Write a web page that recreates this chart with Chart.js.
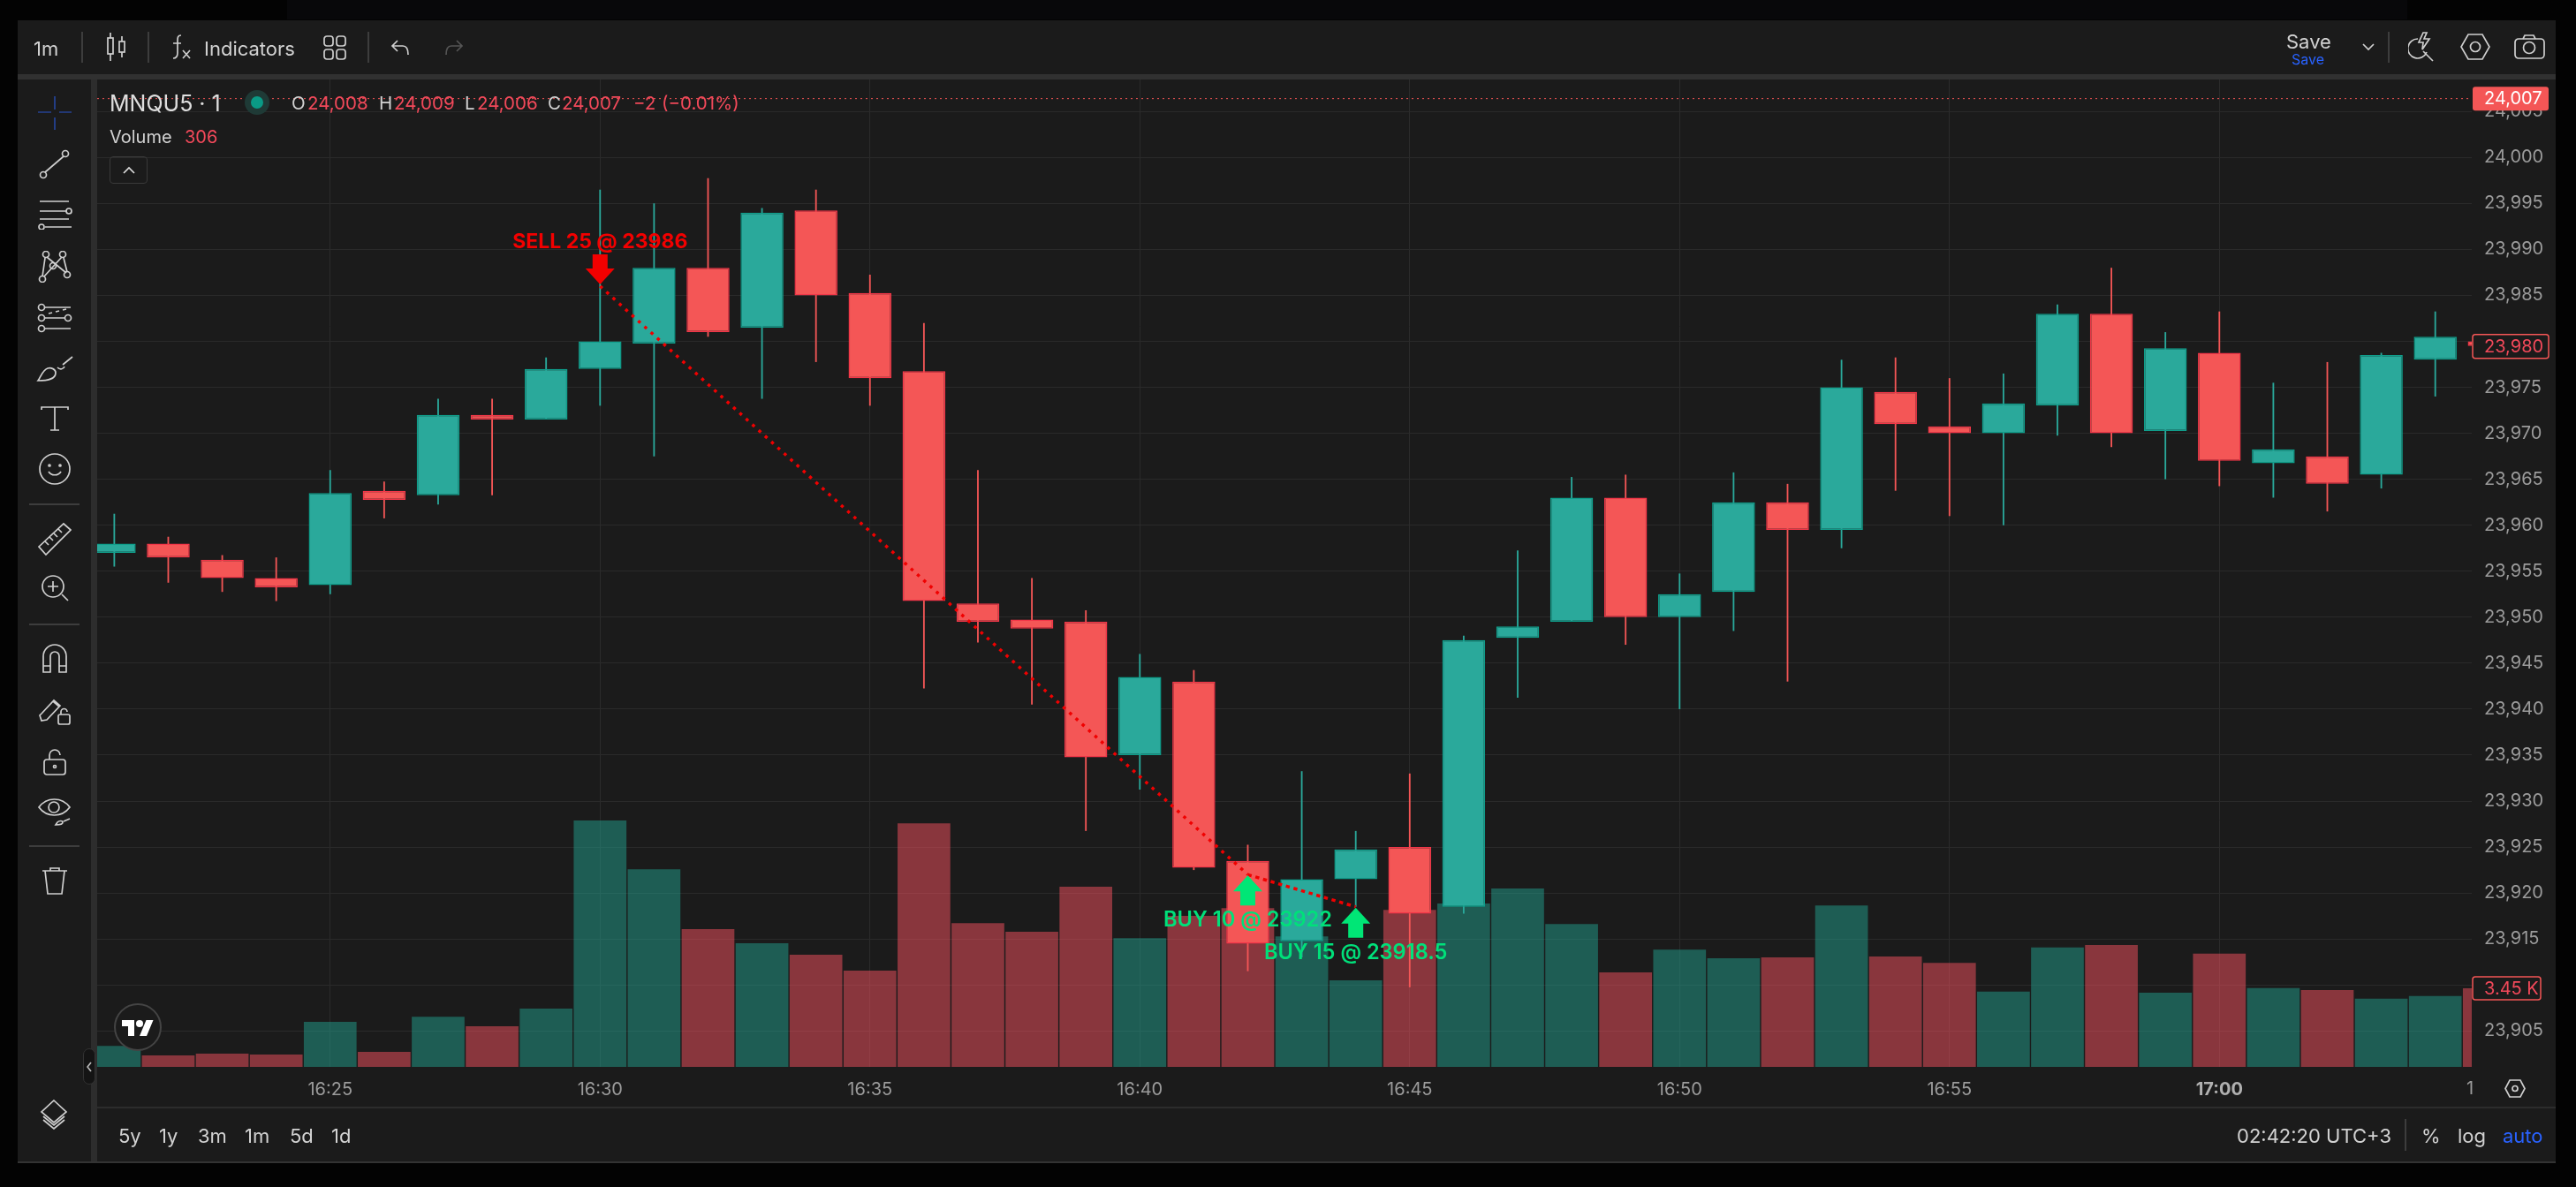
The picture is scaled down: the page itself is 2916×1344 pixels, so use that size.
<!DOCTYPE html>
<html>
<head>
<meta charset="utf-8">
<title>MNQU5</title>
<script src="https://cdn.jsdelivr.net/npm/chart.js@4/dist/chart.umd.min.js"></script>
<style>
html, body { margin: 0; padding: 0; background: #030303; overflow: hidden; }
body { width: 2916px; height: 1344px; position: relative; font-family: Inter, "Noto Sans", sans-serif; }
.box { position: absolute; }
.txt { position: absolute; white-space: nowrap; line-height: 1; transform: translateY(-50%); }
svg { position: absolute; fill: none; stroke: #cfcfcf; stroke-width: 1.7; }
canvas { position: absolute; left: 0; top: 0; }
</style>
</head>
<body>
<div class="box" style="left:325px;top:0;width:2400px;height:22px;background:#08080a"></div>
<div class="box" style="left:20px;top:23px;width:2873px;height:1293px;background:#1b1b1b"></div>
<div class="box" style="left:20px;top:84px;width:2873px;height:6px;background:#313131"></div>
<div class="box" style="left:103px;top:90px;width:7px;height:1226px;background:#2d2d2d"></div>
<div class="box" style="left:110px;top:1253px;width:2783px;height:2px;background:#2c2c2c"></div>
<div class="box" style="left:20px;top:1315px;width:2873px;height:2px;background:#333"></div>
<canvas id="chart" width="2916" height="1344"></canvas>
<div id="chrome"></div>

<script>
var times = ['16:21','16:22','16:23','16:24','16:25','16:26','16:27','16:28','16:29','16:30','16:31','16:32','16:33','16:34','16:35',
    '16:36','16:37','16:38','16:39','16:40','16:41','16:42','16:43','16:44','16:45','16:46','16:47','16:48','16:49','16:50',
    '16:51','16:52','16:53','16:54','16:55','16:56','16:57','16:58','16:59','17:00','17:01','17:02','17:03','17:04','17:05'];
var opens = [23957,23958,23956.25,23954.25,23953.5,23963.75,23963.25,23972,23971.5,23977,23979.75,23988,23981.5,23994.25,23985.25,
    23976.75,23951.5,23949.75,23949.5,23935,23943,23923.5,23914.75,23921.5,23925,23918.5,23947.75,23949.5,23963,23950,
    23952.75,23962.5,23959.5,23974.5,23970.75,23970,23973,23983,23970.25,23978.75,23966.75,23967.5,23965.5,23978,23980];
var closes = [23958,23956.5,23954.25,23953.25,23963.5,23962.75,23972,23971.5,23977,23980,23988,23981,23994,23985,23976,
    23951.75,23949.5,23948.75,23934.75,23943.5,23922.75,23914.5,23921.5,23924.75,23917.75,23947.5,23949,23963,23950,23952.5,
    23962.5,23959.5,23975,23971,23970,23973.25,23983,23970,23979.25,23967,23968.25,23964.5,23978.5,23980.5,23979.5];
var highs = [23961.25,23958.75,23956.75,23956.5,23966,23964.75,23973.75,23973.75,23978.25,23996.5,23995,23997.75,23994.5,23996.5,23987.25,
    23982,23966,23954.25,23950.75,23946,23944.25,23925.25,23933.25,23926.75,23933,23948,23957.25,23965.25,23965.5,23954.75,
    23965.75,23964.5,23978,23978.25,23976,23976.5,23984,23988,23981,23983.25,23975.5,23977.75,23978.75,23983.25,23981];
var lows = [23955.5,23953.75,23952.75,23951.75,23952.5,23960.75,23962.25,23963.25,23971.5,23973,23967.5,23980.5,23973.75,23977.75,23973,
    23942.25,23947.25,23940.5,23926.75,23931.25,23922.5,23911.5,23913,23918.5,23909.75,23917.75,23941.25,23949.5,23947,23940,
    23948.5,23943,23957.5,23963.75,23961,23960,23969.75,23968.5,23965,23964.25,23963,23961.5,23964,23974,23979];
var volumes = [920,500,580,540,1980,660,2200,1780,2560,10810,8670,6050,5425,4925,4225,
    10690,6306,5926,7907,5646,6627,6968,5726,3800,6887,7170,7829,6266,4147,5145,
    4765,4805,7087,4845,4565,3306,5240,5353,3260,4970,3464,3375,2990,3110,3450];

var tradeTimes = ['16:30','16:42','16:44'];
var tradePrices = [23986,23922,23918.5];
var tradeLabels = ['SELL 25 @ 23986','BUY 10 @ 23922','BUY 15 @ 23918.5'];

var lastPriceLevel = 24006.4;
var lastPriceLabel = '24,007';
var lastBarLevel = 23979.5;
var lastBarLabel = '23,980';
var lastVolumeLabel = '3.45 K';

var UP = '#2aa99b', UP_EDGE = '#0f9e8b', DOWN = '#f45656', DOWN_EDGE = '#f23648';
var TEXT = '#d2d2d2', AXIS = '#9b9b9b', RED = '#f2495a', BLUE = '#2962ff';
var FONT = 'Inter, "Noto Sans", sans-serif';

function toMinute(t) {
    var p = t.split(':');
    return Number(p[0]) * 60 + Number(p[1]);
}
function fromMinute(m) {
    return Math.floor(m / 60) + ':' + String(m % 60).padStart(2, '0');
}
var minutes = times.map(toMinute);
var xMin = 980.683, xMax = 1024.676;
var isUp = closes.map(function (c, i) { return c >= opens[i]; });

var tradeOverlay = {
    id: 'tradeOverlay',
    afterDraw: function (chart) {
        var ctx = chart.ctx, xs = chart.scales.x, ys = chart.scales.y;
        ctx.save();
        ctx.textAlign = 'center';
        ctx.textBaseline = 'alphabetic';
        tradeTimes.forEach(function (t, i) {
            var px = xs.getPixelForValue(toMinute(t));
            var py = ys.getPixelForValue(tradePrices[i]);
            var sell = tradeLabels[i].indexOf('SELL') === 0;
            var dir = sell ? -1 : 1;
            var tip = py + (sell ? -2 : 1);
            ctx.fillStyle = sell ? '#f20000' : '#00e676';
            ctx.beginPath();
            ctx.moveTo(px, tip);
            ctx.lineTo(px + 16.5, tip + dir * 18);
            ctx.lineTo(px + 8.5, tip + dir * 18);
            ctx.lineTo(px + 8.5, tip + dir * 34);
            ctx.lineTo(px - 8.5, tip + dir * 34);
            ctx.lineTo(px - 8.5, tip + dir * 18);
            ctx.lineTo(px - 16.5, tip + dir * 18);
            ctx.closePath();
            ctx.fill();
            ctx.font = sell ? '700 23px ' + FONT : '600 23.6px ' + FONT;
            ctx.fillStyle = sell ? '#f20000' : '#00e07a';
            ctx.fillText(tradeLabels[i], px, sell ? py - 43 : py + 59);
        });

        // price badges on the right axis
        var left = chart.chartArea.right + 1;
        ctx.font = '20px ' + FONT;
        ctx.textAlign = 'left';
        ctx.textBaseline = 'middle';

        var y1 = ys.getPixelForValue(lastPriceLevel);
        ctx.fillStyle = DOWN;
        ctx.beginPath();
        ctx.roundRect(left, y1 - 13.5, 86, 27, 3);
        ctx.fill();
        ctx.fillStyle = '#ffffff';
        ctx.fillText(lastPriceLabel, left + 13, y1 + 0.5);

        var y2 = ys.getPixelForValue(lastBarLevel);
        ctx.fillStyle = '#1b1b1b';
        ctx.strokeStyle = DOWN;
        ctx.lineWidth = 1.5;
        ctx.beginPath();
        ctx.roundRect(left, y2 - 13, 86, 27, 3);
        ctx.fill();
        ctx.stroke();
        ctx.fillStyle = RED;
        ctx.fillText(lastBarLabel, left + 13, y2 + 1);

        var y3 = chart.scales.yVol.getPixelForValue(volumes[volumes.length - 1]);
        ctx.fillStyle = '#1b1b1b';
        ctx.beginPath();
        ctx.roundRect(left, y3 - 13, 77, 26, 3);
        ctx.fill();
        ctx.stroke();
        ctx.fillStyle = RED;
        ctx.fillText(lastVolumeLabel, left + 13, y3 + 0.5);
        ctx.restore();
    }
};

new Chart(document.getElementById('chart'), {
    type: 'bar',
    data: {
        datasets: [
            {
                type: 'line', order: 0, borderColor: '#f00000', borderWidth: 3.5, borderDash: [3.5, 6.2],
                pointRadius: 0, xAxisID: 'x', yAxisID: 'y',
                data: [0, 1].map(function (i) { return { x: toMinute(tradeTimes[i]), y: tradePrices[i] }; })
            },
            {
                type: 'line', order: 0, borderColor: '#f00000', borderWidth: 3.5, borderDash: [4.5, 4.5],
                pointRadius: 0, xAxisID: 'x', yAxisID: 'y',
                data: [1, 2].map(function (i) { return { x: toMinute(tradeTimes[i]), y: tradePrices[i] }; })
            },
            {
                type: 'line', order: 4, borderColor: '#f45656', borderWidth: 1, borderDash: [2, 4],
                pointRadius: 0, xAxisID: 'x', yAxisID: 'y',
                data: [{ x: xMin, y: lastPriceLevel }, { x: xMax, y: lastPriceLevel }]
            },
            {
                order: 1, grouped: false, barPercentage: 0.794, categoryPercentage: 1,
                xAxisID: 'x', yAxisID: 'y',
                backgroundColor: isUp.map(function (u) { return u ? UP : DOWN; }),
                borderColor: isUp.map(function (u) { return u ? UP_EDGE : DOWN_EDGE; }),
                borderWidth: 1.5, borderSkipped: false,
                data: minutes.map(function (m, i) { return { x: m, y: [opens[i], closes[i]] }; })
            },
            {
                order: 2, grouped: false, barPercentage: 0.03, categoryPercentage: 1,
                xAxisID: 'x', yAxisID: 'y',
                backgroundColor: isUp.map(function (u) { return u ? UP : DOWN; }),
                data: minutes.map(function (m, i) { return { x: m, y: [lows[i], highs[i]] }; })
            },
            {
                order: 3, grouped: false, barPercentage: 0.977, categoryPercentage: 1,
                xAxisID: 'x', yAxisID: 'yVol',
                backgroundColor: isUp.map(function (u) { return u ? 'rgba(34,160,142,0.5)' : 'rgba(247,82,95,0.5)'; }),
                data: minutes.map(function (m, i) { return { x: m, y: volumes[i] }; })
            }
        ]
    },
    options: {
        responsive: false,
        animation: false,
        events: [],
        layout: { padding: { left: 110, top: 90, right: 0, bottom: 90 } },
        plugins: { legend: { display: false }, tooltip: { enabled: false } },
        scales: {
            x: {
                type: 'linear', min: xMin, max: xMax, offset: false,
                grid: { color: '#2b2b2b', offset: false, drawTicks: false },
                border: { display: false },
                afterFit: function (s) { s.height = 46; },
                ticks: {
                    stepSize: 5, includeBounds: false, autoSkip: false, maxRotation: 0, padding: 14,
                    color: function (c) { return c.tick && c.tick.value === 1020 ? '#b0b0b0' : AXIS; },
                    font: function (c) {
                        var bold = c.tick && c.tick.value === 1020;
                        return { family: FONT, size: 20, weight: bold ? '700' : '400' };
                    },
                    callback: function (v) { return fromMinute(v); }
                }
            },
            y: {
                type: 'linear', position: 'right', min: 23901.09, max: 24008.48,
                grid: { color: '#2a2a2a', drawTicks: false },
                border: { display: false },
                afterFit: function (s) { s.width = 118; },
                ticks: {
                    stepSize: 5, includeBounds: false, autoSkip: false, padding: 14,
                    color: AXIS, font: { family: FONT, size: 20 },
                    callback: function (v) { return v.toLocaleString('en-US'); }
                }
            },
            yVol: { type: 'linear', position: 'right', display: false, min: 0, max: 43334 }
        }
    },
    plugins: [tradeOverlay]
});

// ---- toolbar chrome around the chart
var chrome = document.getElementById('chrome');

function text(str, x, y, size, color, weight) {
    var d = document.createElement('div');
    d.className = 'txt';
    d.textContent = str;
    d.style.left = x + 'px';
    d.style.top = y + 'px';
    d.style.fontSize = size + 'px';
    d.style.color = color;
    if (weight) d.style.fontWeight = weight;
    chrome.appendChild(d);
}
function rule(x, y, w, h, color) {
    var d = document.createElement('div');
    d.className = 'box';
    d.style.cssText += 'left:' + x + 'px;top:' + y + 'px;width:' + w + 'px;height:' + h + 'px;background:' + color;
    chrome.appendChild(d);
}
function icon(cx, cy, w, h, inner, stroke, sw) {
    var s = document.createElementNS('http://www.w3.org/2000/svg', 'svg');
    s.setAttribute('width', w);
    s.setAttribute('height', h);
    s.setAttribute('viewBox', '0 0 ' + w + ' ' + h);
    s.style.left = (cx - w / 2) + 'px';
    s.style.top = (cy - h / 2) + 'px';
    if (stroke) s.style.stroke = stroke;
    if (sw) s.style.strokeWidth = sw;
    s.innerHTML = inner;
    chrome.appendChild(s);
    return s;
}

// top bar
text('1m', 38, 55, 22, TEXT);
rule(92, 36, 2, 35, '#3d3d3d');
icon(131, 53, 24, 34, '<rect x="3" y="7" width="6" height="18"/><path d="M6 1v6M6 25v8"/><rect x="16" y="11" width="6" height="12"/><path d="M19 5v6M19 23v6"/>');
rule(167, 36, 2, 35, '#3d3d3d');
icon(205, 53, 24, 30, '<path d="M12 2c-4 0-4 3-4 6v14c0 4-1 6-5 6M3 11h9M14 19l8 9M22 19l-8 9"/>');
text('Indicators', 231, 55, 22, TEXT);
icon(379, 54, 26, 28, '<rect x="1" y="1" width="10" height="11" rx="3"/><rect x="15" y="1" width="10" height="11" rx="3"/><rect x="1" y="16" width="10" height="11" rx="3"/><rect x="15" y="16" width="10" height="11" rx="3"/>');
rule(416, 36, 2, 35, '#3d3d3d');
icon(453, 54, 22, 20, '<path d="M8 2L2 8l6 6M2 8h12c4 0 6 3 6 10"/>');
icon(514, 54, 22, 20, '<path d="M14 2l6 6-6 6M20 8H8c-4 0-6 3-6 10"/>', '#555');
text('Save', 2588, 47, 22, TEXT);
text('Save', 2594, 67, 16, BLUE);
icon(2681, 53, 14, 9, '<path d="M1 1l6 6 6-6"/>');
rule(2703, 36, 2, 35, '#3d3d3d');
icon(2741, 53, 30, 34, '<path d="M11 8a11 11 0 1 0 10 15M17 22l11 11M17 1l-5 11h5l-1 8 8-12h-6l3-7z"/>');
icon(2802, 53, 34, 30, '<path d="M9 1h16l8 14-8 14H9L1 15z"/><circle cx="17" cy="15" r="5.5"/>');
icon(2863, 53, 35, 28, '<rect x="1" y="5" width="33" height="22" rx="4"/><path d="M10 5l2-4h10l2 4"/><circle cx="17" cy="15" r="6.5"/>');

// legend block over the plot
text('MNQU5 · 1', 124, 117, 25, '#dedede');
var dot = document.createElement('div');
dot.className = 'box';
dot.style.cssText += 'left:277px;top:102px;width:14px;height:14px;border:7px solid #1f3a36;border-radius:50%;background:#0a9a85';
chrome.appendChild(dot);
text('O', 330, 117, 20.5, TEXT); text('24,008', 348, 117, 20.5, RED);
text('H', 429, 117, 20.5, TEXT); text('24,009', 446, 117, 20.5, RED);
text('L', 526, 117, 20.5, TEXT); text('24,006', 540, 117, 20.5, RED);
text('C', 620, 117, 20.5, TEXT); text('24,007', 636, 117, 20.5, RED);
text('\u22122', 717, 117, 20.5, RED); text('(\u22120.01%)', 749, 117, 20.5, RED);
text('Volume', 124, 155, 20, TEXT); text('306', 209, 155, 20, RED);
var btn = document.createElement('div');
btn.className = 'box';
btn.style.cssText += 'left:124px;top:177px;width:43px;height:31px;border:1.5px solid #3a3a3a;border-radius:4px;box-sizing:border-box';
chrome.appendChild(btn);
icon(146, 192, 14, 9, '<path d="M1 8l6-6 6 6"/>', '#dddddd');

// watermark logo
var ring = document.createElement('div');
ring.className = 'box';
ring.style.cssText += 'left:129px;top:1136px;width:54px;height:54px;border:2px solid #444;border-radius:50%;background:#1b1b1b;box-sizing:border-box';
chrome.appendChild(ring);
icon(156, 1163, 36, 24, '<path stroke="none" fill="#fff" d="M14 22H7V11H0V4h14zM28 22h-8l7.5-18h8z"/><circle cx="20" cy="8" r="4" stroke="none" fill="#fff"/>');

// pane collapse handle
var handle = document.createElement('div');
handle.className = 'box';
handle.style.cssText += 'left:94px;top:1187px;width:14px;height:41px;border:1.5px solid #333;border-radius:7px;background:#141414;box-sizing:border-box';
chrome.appendChild(handle);
icon(101, 1208, 6, 12, '<path d="M5 1L1 6l4 5"/>', '#bbbbbb');

// left drawing rail
var railX = 61.5;
icon(railX, 128, 38, 38, '<path d="M19 0v15M19 24v14M0 18h15M24 18h14"/>', '#2a55cc', 1.2);
icon(railX, 186, 36, 34, '<circle cx="5" cy="29" r="3.5"/><circle cx="30" cy="5" r="3.5"/><path d="M7 26L28 8"/>');
icon(railX, 243, 40, 34, '<path d="M3 2h33M3 13h30M3 22h33M9 31h30"/><circle cx="36" cy="13" r="3"/><circle cx="5" cy="31" r="3"/>');
icon(railX, 302, 38, 36, '<circle cx="9" cy="4" r="3.5"/><circle cx="28" cy="4" r="3.5"/><circle cx="5" cy="32" r="3.5"/><circle cx="33" cy="27" r="3.5"/><circle cx="17" cy="17" r="3.5"/><path d="M8 8l-3 21M10 7l22 18M27 7L7 29M29 8l4 16"/>');
icon(railX, 360, 40, 34, '<circle cx="5" cy="5" r="3.5"/><circle cx="5" cy="17" r="3.5"/><circle cx="5" cy="29" r="3.5"/><circle cx="35" cy="17" r="3.5"/><path d="M9 5h29M9 17h22M9 29h29M13 12l4-1M21 10l4-1M29 8l4-1"/>');
icon(railX, 417, 42, 30, '<path d="M2 29c10 0 20-1 20-9 0-4-5-6-9-5C7 17 5 25 2 29zM24 14c3 3 7 2 8-1M30 11L41 2"/>');
icon(railX, 474, 32, 30, '<path d="M1 5V2h30v3M16 2v26M11 28h10"/>');
icon(railX, 531, 36, 36, '<ellipse cx="18" cy="18" rx="17" ry="17"/><circle cx="12" cy="14" r="1"/><circle cx="24" cy="14" r="1"/><path d="M11 21c3 5 11 5 14 0"/>');
rule(33, 570, 57, 2, '#3d3d3d');
icon(railX, 611, 38, 40, '<path d="M1 28L29 2l8 7L9 37z"/><path d="M8 22l4 4M13 17l4 4M18 13l4 4M23 8l4 4"/>');
icon(railX, 666, 32, 30, '<circle cx="14" cy="13" r="12"/><path d="M14 7v12M8 13h12M24 22l7 7"/>');
rule(33, 706, 57, 2, '#3d3d3d');
icon(railX, 746, 28, 34, '<path d="M1 32V14a13 13 0 0 1 26 0v18h-8V14a5 5 0 0 0-10 0v18zM1 25h8M19 25h8"/>');
icon(railX, 804, 36, 34, '<path d="M1 23l2 6 6-1L24 12l-7-6L3 21zM16 7l7 6"/><rect x="22" y="22" width="13" height="11" rx="2"/><path d="M25 22v-3a3.5 3.5 0 0 1 7 0"/>');
icon(railX, 863, 28, 30, '<rect x="2" y="12" width="24" height="17" rx="3"/><path d="M8 12V7a6 6 0 0 1 12 0"/><circle cx="14" cy="20" r="1.5"/>');
icon(railX, 918, 38, 36, '<path d="M1 14C10 2 27 2 36 14 27 26 10 26 1 14z"/><circle cx="18" cy="14" r="6"/><path d="M20 34c4 0 8-1 8-3s-4-2-6 0zM29 30l7-3"/>');
rule(33, 957, 57, 2, '#3d3d3d');
icon(railX, 997, 30, 32, '<path d="M1 5h28M10 5V2h10v3M4 5l3 26h16l3-26"/>');
icon(61, 1262, 32, 34, '<path d="M16 1l14 13-14 12L2 14zM4 19l12 10 12-10M4 23l12 10 12-10"/>');

// bottom bar
var ranges = [['5y', 134], ['1y', 180], ['3m', 224], ['1m', 277], ['5d', 328], ['1d', 375]];
ranges.forEach(function (r) { text(r[0], r[1], 1286, 22, TEXT); });
text('02:42:20 UTC+3', 2532, 1286, 22, TEXT);
rule(2722, 1267, 2, 36, '#3d3d3d');
text('%', 2741, 1286, 22, TEXT);
text('log', 2782, 1286, 22, TEXT);
text('auto', 2833, 1286, 22, BLUE);
text('1', 2792, 1232, 20, AXIS);
icon(2847, 1232, 24, 21, '<path d="M6 1h12l5 9.5-5 9.5H6L1 10.5z"/><circle cx="12" cy="10.5" r="3"/>');
</script>
</body>
</html>
